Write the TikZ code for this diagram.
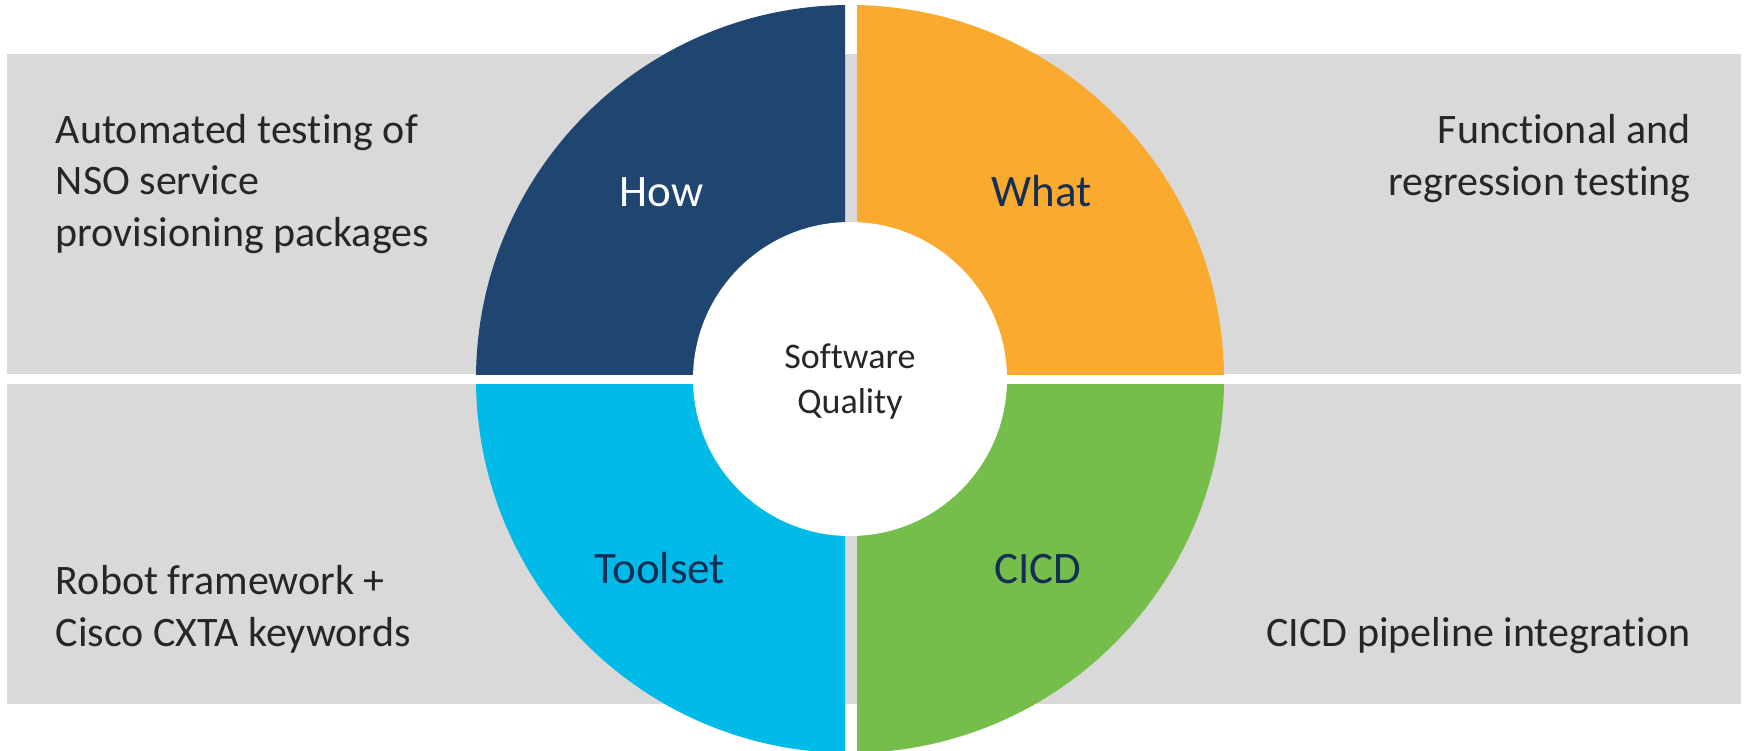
\documentclass[tikz,border=0pt]{standalone}
\usepackage{fontspec}
\setmainfont{Carlito}[Ligatures=NoCommon]
\definecolor{navyq}{HTML}{1F4571}
\definecolor{orangeq}{HTML}{F9AA2F}
\definecolor{cyanq}{HTML}{00BBE7}
\definecolor{greenq}{HTML}{75BE4C}
\definecolor{band}{HTML}{D9D9D9}
\definecolor{txt}{HTML}{262626}
\definecolor{navytxt}{HTML}{142E55}
\tikzset{
  sidetext/.style={inner sep=0pt, text=txt, font=\fontsize{21}{25.8}\selectfont},
  quadlabel/.style={inner sep=0pt, font=\fontsize{22.5}{27}\selectfont},
  centertext/.style={inner sep=0pt, text=txt, align=center, font=\fontsize{18}{22.5}\selectfont},
}
\begin{document}
\begin{tikzpicture}[x=0.5pt,y=-0.5pt]
\useasboundingbox (0,0) rectangle (1746,750);
\fill[white] (0,0) rectangle (1746,750);
% grey bands
\fill[band] (7,54) rectangle (1741,374);
\fill[band] (7,384) rectangle (1741,704);
% quadrants
\coordinate (C) at (850,379);
\begin{scope}
  \clip (0,0) rectangle (845,374);
  \fill[navyq] (C) circle[radius=374];
\end{scope}
\begin{scope}
  \clip (857,0) rectangle (1746,374);
  \fill[orangeq] (C) circle[radius=374];
\end{scope}
\begin{scope}
  \clip (0,384) rectangle (845,760);
  \fill[cyanq] (C) circle[radius=374];
\end{scope}
\begin{scope}
  \clip (857,384) rectangle (1746,760);
  \fill[greenq] (C) circle[radius=374];
\end{scope}
\fill[white] (C) circle[radius=157];
% centre text (anchor = baseline of last line)
\node[centertext, anchor=base] (sq) at (850,413) {Software\\Quality};
% quadrant labels
\node[quadlabel, text=white, anchor=base] (how) at (661.5,206) {How};
\node[quadlabel, text=navytxt, anchor=base] (what) at (1041.5,206) {What};
\node[quadlabel, text=navytxt, anchor=base] (tool) at (659.7,583) {Toolset};
\node[quadlabel, text=navytxt, anchor=base] (cicd) at (1038,583) {CICD};
% side texts (anchor = baseline of last line)
\node[sidetext, align=left, anchor=base west] (t1) at (55.5,246.5) {Automated testing of\\NSO service\\provisioning packages};
\node[sidetext, align=right, anchor=base east] (t2) at (1691,195) {Functional and\\regression testing};
\node[sidetext, align=left, anchor=base west] (t3) at (55.5,646) {Robot framework +\\Cisco CXTA keywords};
\node[sidetext, align=right, anchor=base east] (t4) at (1691,646) {CICD pipeline integration};
\end{tikzpicture}
\end{document}
